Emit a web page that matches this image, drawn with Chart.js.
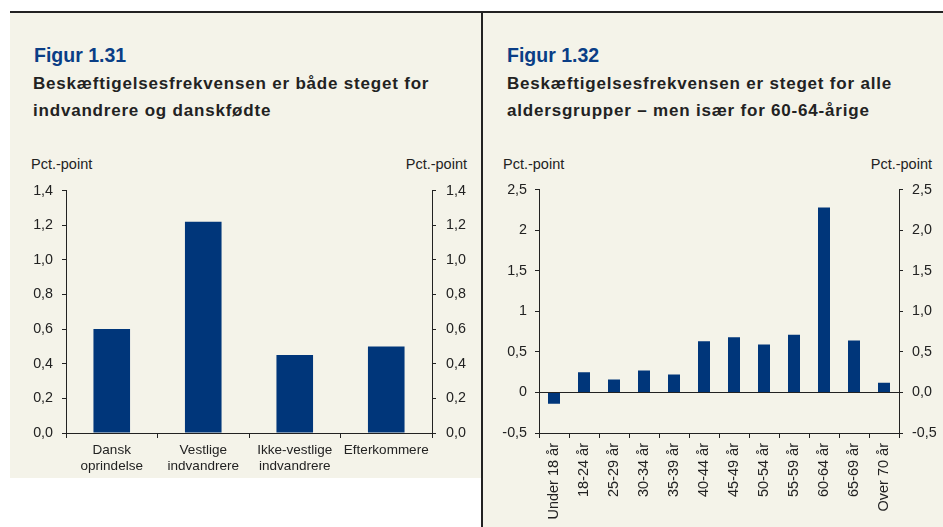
<!DOCTYPE html>
<html>
<head>
<meta charset="utf-8">
<script src="https://cdn.jsdelivr.net/npm/chart.js@4"></script>
<style>
  body { margin: 0; background: #fff; width: 943px; height: 527px; position: relative; overflow: hidden;
         font-family: "Liberation Sans", Arial, sans-serif; }
  .panel { position: absolute; background: #f4f3e9; }
  .fig { position: absolute; color: #0a3e86; font-weight: bold; font-size: 19.5px; white-space: nowrap; }
  .sub { position: absolute; color: #222; font-weight: bold; font-size: 17px; line-height: 26.5px;
         letter-spacing: 0.8px; white-space: nowrap; }
  .unit { position: absolute; color: #222; font-size: 14.5px; white-space: nowrap; }
  canvas { position: absolute; }
</style>
</head>
<body>
<div style="position:absolute;left:10px;top:11px;width:933px;height:2px;background:#222"></div>
<div class="panel" style="left:10px;top:13px;width:471px;height:465px"></div>
<div style="position:absolute;left:481px;top:13px;width:2px;height:514px;background:#222"></div>
<div class="panel" style="left:483px;top:13px;width:460px;height:514px"></div>

<div class="fig" style="left:34px;top:44px">Figur 1.31</div>
<div class="sub" style="left:33px;top:71px">Beskæftigelsesfrekvensen er både steget for<br>indvandrere og danskfødte</div>
<div class="unit" style="left:31px;top:156px">Pct.-point</div>
<div class="unit" style="right:476px;top:156px">Pct.-point</div>

<div class="fig" style="left:507px;top:44px">Figur 1.32</div>
<div class="sub" style="left:507px;top:71px">Beskæftigelsesfrekvensen er steget for alle<br>aldersgrupper – men især for 60-64-årige</div>
<div class="unit" style="left:503px;top:156px">Pct.-point</div>
<div class="unit" style="right:11px;top:156px">Pct.-point</div>

<canvas id="chartLeft" width="471" height="306" style="left:10px;top:172px"></canvas>
<canvas id="chartRight" width="460" height="355" style="left:483px;top:172px"></canvas>

<script>
var groupLabels = [['Dansk', 'oprindelse'], ['Vestlige', 'indvandrere'], ['Ikke-vestlige', 'indvandrere'], 'Efterkommere'];
var groupValues = [0.60, 1.22, 0.45, 0.50];

var ageLabels = ['Under 18 år', '18-24 år', '25-29 år', '30-34 år', '35-39 år', '40-44 år',
                 '45-49 år', '50-54 år', '55-59 år', '60-64 år', '65-69 år', 'Over 70 år'];
var ageValues = [-0.14, 0.25, 0.16, 0.27, 0.22, 0.63, 0.68, 0.59, 0.71, 2.28, 0.64, 0.12];

var barColor = '#00367a';
var textColor = '#222';
var lineColor = '#222';

Chart.defaults.font.family = '"Liberation Sans", Arial, sans-serif';
Chart.defaults.font.size = 14.3;
Chart.defaults.color = textColor;

function comma(v, digits) {
    return v.toFixed(digits).replace('.', ',');
}

function yAxis(pos, min, max, step, fmt, width, pad, zeroLine) {
    return {
        position: pos,
        min: min,
        max: max,
        ticks: { stepSize: step, padding: pad, callback: fmt },
        grid: {
            drawOnChartArea: !!zeroLine,
            color: function (c) { return c.tick && c.tick.value === 0 ? lineColor : 'transparent'; },
            tickColor: lineColor,
            tickLength: 4
        },
        border: { display: true, color: lineColor, width: 1 },
        afterFit: function (s) { s.width = width; }
    };
}

var leftChart = new Chart(document.getElementById('chartLeft').getContext('2d'), {
    type: 'bar',
    data: {
        labels: groupLabels,
        datasets: [{ data: groupValues, backgroundColor: barColor, barPercentage: 0.4, categoryPercentage: 1 }]
    },
    options: {
        responsive: false,
        animation: false,
        plugins: { legend: { display: false }, tooltip: { enabled: false } },
        scales: {
            x: {
                grid: { offset: true, drawOnChartArea: false, tickColor: lineColor, tickLength: 5 },
                border: { display: true, color: lineColor },
                ticks: { padding: 4, maxRotation: 0, autoSkip: false, font: { size: 13.5, lineHeight: 1.2 } },
                afterFit: function (s) { s.height = 45; }
            },
            y: yAxis('left', 0, 1.4, 0.2, function (v) { return comma(v, 1); }, 56, 9, false),
            y2: yAxis('right', 0, 1.4, 0.2, function (v) { return comma(v, 1); }, 49, 10, false)
        }
    }
});

var rightChart = new Chart(document.getElementById('chartRight').getContext('2d'), {
    type: 'bar',
    data: {
        labels: ageLabels,
        datasets: [{ data: ageValues, backgroundColor: barColor, barPercentage: 0.4, categoryPercentage: 1 }]
    },
    options: {
        responsive: false,
        animation: false,
        plugins: { legend: { display: false }, tooltip: { enabled: false } },
        scales: {
            x: {
                grid: { offset: true, drawOnChartArea: false, tickColor: lineColor, tickLength: 5 },
                border: { display: true, color: lineColor },
                ticks: { padding: 5, minRotation: 90, maxRotation: 90, autoSkip: false, font: { size: 14.5 } },
                afterFit: function (s) { s.height = 94; }
            },
            y: yAxis('left', -0.5, 2.5, 0.5, function (v) { return String(v).replace('.', ','); }, 56, 8, true),
            y2: yAxis('right', -0.5, 2.5, 0.5, function (v) { return comma(v, 1); }, 44, 9, false)
        }
    }
});
</script>
</body>
</html>
